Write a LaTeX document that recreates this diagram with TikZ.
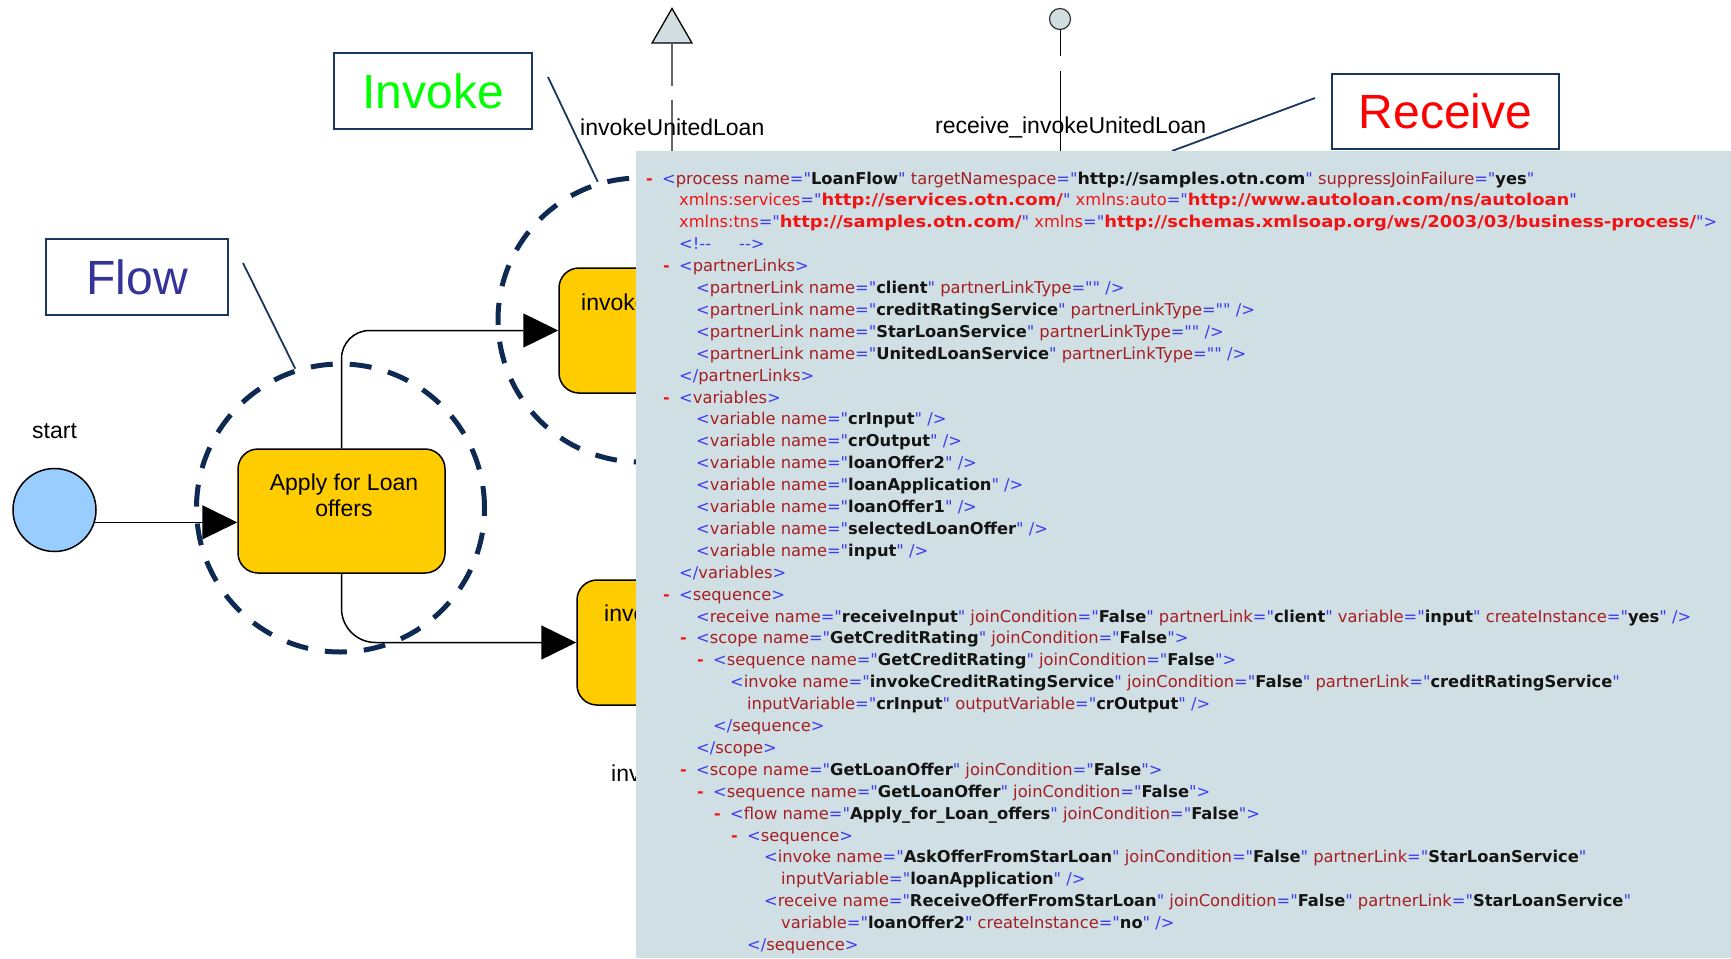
\documentclass[tikz,border=0pt]{standalone}
\usepackage{fontspec}
\usetikzlibrary{arrows.meta,shapes.geometric}
\newfontfamily\labelfont{Liberation Sans}
\newfontfamily\xmlfont[Ligatures=TeXOff]{DejaVu Sans}
\newfontfamily\xurlfont[Ligatures=TeXOff,FakeStretch=1.10]{DejaVu Sans}
\newfontfamily\xtargetfont[Ligatures=TeXOff,FakeStretch=1.066]{DejaVu Sans}
\definecolor{panelbg}{RGB}{208,223,227}
\definecolor{ringnavy}{RGB}{14,42,82}
\definecolor{boxnavy}{RGB}{23,55,94}
\definecolor{taskfill}{RGB}{255,204,0}
\definecolor{startfill}{RGB}{153,204,255}
\definecolor{markerfill}{RGB}{208,222,226}
\definecolor{xmk}{RGB}{60,60,240}
\definecolor{xtn}{RGB}{165,30,35}
\definecolor{xns}{RGB}{240,20,20}
\definecolor{xval}{RGB}{20,20,20}
\definecolor{flowblue}{RGB}{51,51,153}
\definecolor{invokegreen}{RGB}{0,255,0}
\definecolor{receivered}{RGB}{255,0,0}

% XML listing helpers: markup, tag names, attributes, namespace attributes
\newcommand\xmk[1]{\textcolor{xmk}{#1}}
\newcommand\xtn[1]{\textcolor{xtn}{#1}}
\newcommand\xattr[2]{\xtn{#1}\xmk{="}\textcolor{xval}{\bfseries #2}\xmk{"}}
\newcommand\xurlattr[2]{\xtn{#1}\xmk{="}\textcolor{xval}{\xtargetfont\bfseries #2}\xmk{"}}
\newcommand\xnsattr[2]{\textcolor{xns}{#1}\xmk{="}\textcolor{xns}{\xurlfont\bfseries #2}\xmk{"}}
\newcommand\xop[1]{\xmk{<}\xtn{#1}}
\newcommand\xet[1]{\xmk{</}\xtn{#1}\xmk{>}}
\newcommand\xline[3]{\node[xmltext] (l#1) at ({662+17*#2},{184+21.9*(#1-1)}) {#3};}
\newcommand\xtog[2]{\node[xmltog] (t#1) at ({646+17*#2},{184+21.9*(#1-1)}) {-};}

\begin{document}
\begin{tikzpicture}[x=1pt,y=-1pt,
  lbl/.style={font=\labelfont\fontsize{23}{26}\selectfont, inner sep=0},
  callbox/.style={draw=boxnavy, line width=2pt, fill=white, inner sep=0,
    font=\labelfont\fontsize{48}{52}\selectfont},
  callout/.style={draw=boxnavy, line width=1.8pt},
  task/.style={draw=black, line width=1.5pt, fill=taskfill, rounded corners=20pt, inner sep=0},
  conn/.style={draw=black, line width=1.5pt, -{Triangle[length=35pt,width=34pt]}},
  ring/.style={circle, draw=ringnavy, line width=5pt, dash pattern=on 22pt off 17pt, inner sep=0},
  xmltext/.style={anchor=base west, inner sep=0, font=\xmlfont\fontsize{16.3}{19}\selectfont},
  xmltog/.style={xmltext, text=xns, font=\xmlfont\bfseries\fontsize{16}{19}\selectfont}]
\useasboundingbox (0,0) rectangle (1731,958);

% start event and the flow activity
\node[circle, draw=black, line width=1.5pt, fill=startfill, minimum size=83pt, inner sep=0] (start) at (54.5,510) {};
\node[lbl, anchor=base west] (startlbl) at (32,438) {start};
\node[task, minimum width=207pt, minimum height=124pt] (apply) at (341.5,511) {};
\node[lbl, align=center] (applytxt) at (344,495.5) {Apply for Loan\\offers};

% parallel invoke branches
\node[task, minimum width=207pt, minimum height=125pt] (invA) at (662.5,330.5) {};
\node[lbl, anchor=base west] (invAtxt) at (581,310) {invoke};
\node[task, minimum width=207pt, minimum height=125pt] (invB) at (680.5,642.5) {};
\node[lbl, anchor=base west] (invBtxt) at (604,621) {invoke};
\node[lbl, anchor=base west] (invClbl) at (611,781) {invoke};

\draw[conn] (start.-17) -- (apply.west |- start.-17);
\draw[conn, rounded corners=28pt] (apply.north) |- (invA.west);
\draw[conn, rounded corners=34pt] (apply.south) |- (invB.west);

% message markers above the process
\node[regular polygon, regular polygon sides=3, minimum size=46pt, inner sep=0,
  draw=black, line width=1.3pt, fill=markerfill] (sendtri) at (672,31.5) {};
\coordinate (sendfoot) at (672,151);
\draw[gray!80!black, line width=1.5pt, dash pattern=on 42pt off 14pt on 300pt] (sendtri.south) -- (sendfoot);
\node[lbl, anchor=base west] (sendlbl) at (580,135) {invokeUnitedLoan};

\node[circle, draw=black!80, line width=1.2pt, fill=markerfill, minimum size=21pt, inner sep=0] (recvdot) at (1060,19) {};
\coordinate (recvfoot) at (1060,151);
\draw[black, line width=1pt, dash pattern=on 26pt off 15pt on 300pt] (recvdot.south) -- (recvfoot);
\node[lbl, anchor=base west] (recvlbl) at (935,133) {receive\_invokeUnitedLoan};

% dashed scopes
\node[ring, minimum size=288pt] (flowring) at (340.5,508) {};
\node[ring, minimum size=284pt] (invokering) at (640,320) {};

% callout boxes
\node[callbox, text=flowblue, minimum width=182pt, minimum height=76pt] (flowbox) at (137,277) {Flow};
\node[callbox, text=invokegreen, minimum width=198pt, minimum height=76pt] (invokebox) at (433,91) {Invoke};
\node[callbox, text=receivered, minimum width=227pt, minimum height=75pt] (recvbox) at (1445.5,111.5) {Receive};
\coordinate (flowlead) at (243,263);
\coordinate (invokelead) at (548,77);
\coordinate (recvlead) at (1315,98);
\coordinate (recvtip) at (1172,151);
\draw[callout] (flowlead) -- (flowring.108.6);
\draw[callout] (invokelead) -- (invokering.107.2);
\draw[callout] (recvlead) -- (recvtip);

% BPEL source listing
\node[fill=panelbg, anchor=north west, minimum width=1095pt, minimum height=807pt, inner sep=0] (panel) at (636,151) {};

\xtog{1}{0}\xline{1}{0}{\xop{process} \xattr{name}{LoanFlow} \xurlattr{targetNamespace}{http://samples.otn.com} \xattr{suppressJoinFailure}{yes}}
\xline{2}{1}{\xnsattr{xmlns:services}{http://services.otn.com/} \xnsattr{xmlns:auto}{http://www.autoloan.com/ns/autoloan}}
\xline{3}{1}{\xnsattr{xmlns:tns}{http://samples.otn.com/} \xnsattr{xmlns}{http://schemas.xmlsoap.org/ws/2003/03/business-process/}\xmk{>}}
\xline{4}{1}{\xmk{<!-{}-}\hspace{28pt}\xmk{-{}->}}
\xtog{5}{1}\xline{5}{1}{\xop{partnerLinks}\xmk{>}}
\xline{6}{2}{\xop{partnerLink} \xattr{name}{client} \xattr{partnerLinkType}{} \xmk{/>}}
\xline{7}{2}{\xop{partnerLink} \xattr{name}{creditRatingService} \xattr{partnerLinkType}{} \xmk{/>}}
\xline{8}{2}{\xop{partnerLink} \xattr{name}{StarLoanService} \xattr{partnerLinkType}{} \xmk{/>}}
\xline{9}{2}{\xop{partnerLink} \xattr{name}{UnitedLoanService} \xattr{partnerLinkType}{} \xmk{/>}}
\xline{10}{1}{\xet{partnerLinks}}
\xtog{11}{1}\xline{11}{1}{\xop{variables}\xmk{>}}
\xline{12}{2}{\xop{variable} \xattr{name}{crInput} \xmk{/>}}
\xline{13}{2}{\xop{variable} \xattr{name}{crOutput} \xmk{/>}}
\xline{14}{2}{\xop{variable} \xattr{name}{loanOffer2} \xmk{/>}}
\xline{15}{2}{\xop{variable} \xattr{name}{loanApplication} \xmk{/>}}
\xline{16}{2}{\xop{variable} \xattr{name}{loanOffer1} \xmk{/>}}
\xline{17}{2}{\xop{variable} \xattr{name}{selectedLoanOffer} \xmk{/>}}
\xline{18}{2}{\xop{variable} \xattr{name}{input} \xmk{/>}}
\xline{19}{1}{\xet{variables}}
\xtog{20}{1}\xline{20}{1}{\xop{sequence}\xmk{>}}
\xline{21}{2}{\xop{receive} \xattr{name}{receiveInput} \xattr{joinCondition}{False} \xattr{partnerLink}{client} \xattr{variable}{input} \xattr{createInstance}{yes} \xmk{/>}}
\xtog{22}{2}\xline{22}{2}{\xop{scope} \xattr{name}{GetCreditRating} \xattr{joinCondition}{False}\xmk{>}}
\xtog{23}{3}\xline{23}{3}{\xop{sequence} \xattr{name}{GetCreditRating} \xattr{joinCondition}{False}\xmk{>}}
\xline{24}{4}{\xop{invoke} \xattr{name}{invokeCreditRatingService} \xattr{joinCondition}{False} \xattr{partnerLink}{creditRatingService}}
\xline{25}{5}{\xattr{inputVariable}{crInput} \xattr{outputVariable}{crOutput} \xmk{/>}}
\xline{26}{3}{\xet{sequence}}
\xline{27}{2}{\xet{scope}}
\xtog{28}{2}\xline{28}{2}{\xop{scope} \xattr{name}{GetLoanOffer} \xattr{joinCondition}{False}\xmk{>}}
\xtog{29}{3}\xline{29}{3}{\xop{sequence} \xattr{name}{GetLoanOffer} \xattr{joinCondition}{False}\xmk{>}}
\xtog{30}{4}\xline{30}{4}{\xop{flow} \xattr{name}{Apply\_for\_Loan\_offers} \xattr{joinCondition}{False}\xmk{>}}
\xtog{31}{5}\xline{31}{5}{\xop{sequence}\xmk{>}}
\xline{32}{6}{\xop{invoke} \xattr{name}{AskOfferFromStarLoan} \xattr{joinCondition}{False} \xattr{partnerLink}{StarLoanService}}
\xline{33}{7}{\xattr{inputVariable}{loanApplication} \xmk{/>}}
\xline{34}{6}{\xop{receive} \xattr{name}{ReceiveOfferFromStarLoan} \xattr{joinCondition}{False} \xattr{partnerLink}{StarLoanService}}
\xline{35}{7}{\xattr{variable}{loanOffer2} \xattr{createInstance}{no} \xmk{/>}}
\xline{36}{5}{\xet{sequence}}
\end{tikzpicture}
\end{document}
